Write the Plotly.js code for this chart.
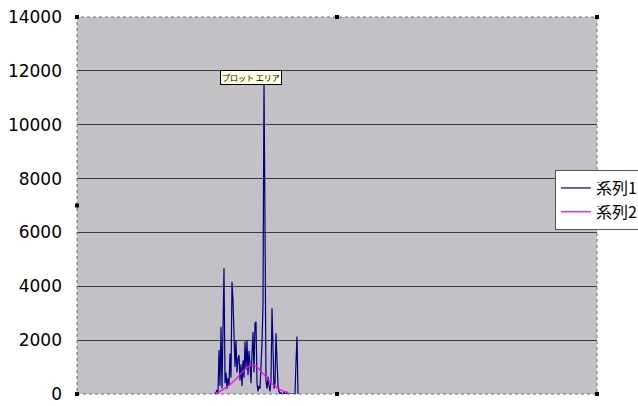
<!DOCTYPE html>
<html>
<head>
<meta charset="utf-8">
<script src="https://cdn.plot.ly/plotly-3.0.1.min.js"></script>
<style>html,body{margin:0;padding:0;background:#fff;}#chart{width:638px;height:406px;}</style>
</head>
<body>
<div id="chart"></div>
<script>
// Series 1: sample index (category number) and values
const s1Start = 137;
const s1Values = [
  0, 0, 60, 150, 0, 1630, 300, 2500, 200, 2200,
  4670, 400, 800, 200, 600, 300, 1500, 600, 4170, 3450,
  2250, 1000, 2000, 800, 1300, 1450, 500, 1100, 300, 1250,
  600, 1950, 900, 2000, 700, 1600, 1100, 400, 1500, 2300,
  800, 2620, 2680, 400, 100, 300, 200, 900, 1880, 3300,
  11800, 6200, 500, 200, 640, 300, 100, 500, 3180, 1750,
  200, 400, 2260, 1260, 300, 100, 0, 50, 0, 0,
  80, 0, 0, 60, 0, 0, 0, 0, 0, 0,
  0, 0, 1200, 2130, 0
];
const s1X = s1Values.map((_, i) => s1Start + i);

// Series 2: sample index and values
const s2X = [139, 143, 147, 151, 155, 159, 163, 167, 171, 175, 179, 183, 187, 191, 195, 199, 203, 207, 211, 213];
const s2Values = [30, 100, 190, 300, 420, 560, 720, 880, 1010, 1080, 1040, 880, 720, 530, 380, 260, 160, 100, 40, 0];

const seriesNames = ['系列1', '系列2'];
const yTicks = [0, 2000, 4000, 6000, 8000, 10000, 12000, 14000];
const xCount = 520;

const traces = [
  {x: s1X, y: s1Values, name: seriesNames[0], type: 'scatter', mode: 'lines',
   line: {color: '#000080', width: 1.2}},
  {x: s2X, y: s2Values, name: seriesNames[1], type: 'scatter', mode: 'lines',
   line: {color: '#FF00FF', width: 1.3, shape: 'spline'}}
];

function handle(px, py) {
  return {type: 'rect', xref: 'paper', yref: 'paper', xsizemode: 'pixel', ysizemode: 'pixel',
    xanchor: px, yanchor: py, x0: -2, x1: 2, y0: -2, y1: 2,
    fillcolor: '#000', line: {color: '#000', width: 0}};
}

const layout = {
  width: 638, height: 406,
  margin: {l: 77, r: 41, t: 17, b: 12, autoexpand: false},
  paper_bgcolor: '#ffffff',
  plot_bgcolor: '#C3C1C6',
  showlegend: true,
  hovermode: false,
  xaxis: {range: [0, xCount], showticklabels: false, showgrid: false, zeroline: false,
          showline: false, ticks: '', fixedrange: true, automargin: false},
  yaxis: {range: [0, 14000], tickvals: yTicks, ticktext: yTicks.map(String),
          showgrid: true, gridcolor: '#3a3a3a', gridwidth: 1, zeroline: false,
          showline: false, ticks: '', ticklabelstandoff: 14, automargin: false,
          tickfont: {family: 'DejaVu Sans', size: 17, color: '#000'}, fixedrange: true},
  legend: {x: 0.919, y: 0.594, xanchor: 'left', yanchor: 'top',
           bgcolor: '#ffffff', bordercolor: '#555', borderwidth: 1,
           font: {family: 'Noto Sans CJK JP', size: 16, color: '#000'},
           itemwidth: 30},
  shapes: [
    {type: 'rect', xref: 'paper', yref: 'paper', x0: 0, x1: 1, y0: 0, y1: 1,
     line: {color: '#707070', width: 1, dash: 'dot'}},
    handle(0, 0), handle(0.5, 0), handle(1, 0),
    handle(0, 0.5), handle(1, 0.5),
    handle(0, 1), handle(0.5, 1), handle(1, 1)
  ],
  annotations: [
    {xref: 'paper', yref: 'paper', x: 0.3345, y: 0.8395, xanchor: 'center', yanchor: 'middle',
     text: 'プロット エリア', showarrow: false,
     font: {family: 'Noto Sans CJK JP', size: 8, color: '#000'},
     bgcolor: '#FFFFE1', bordercolor: '#000', borderwidth: 1, borderpad: 1}
  ]
};

Plotly.newPlot('chart', traces, layout, {displayModeBar: false, staticPlot: true});
</script>
</body>
</html>
